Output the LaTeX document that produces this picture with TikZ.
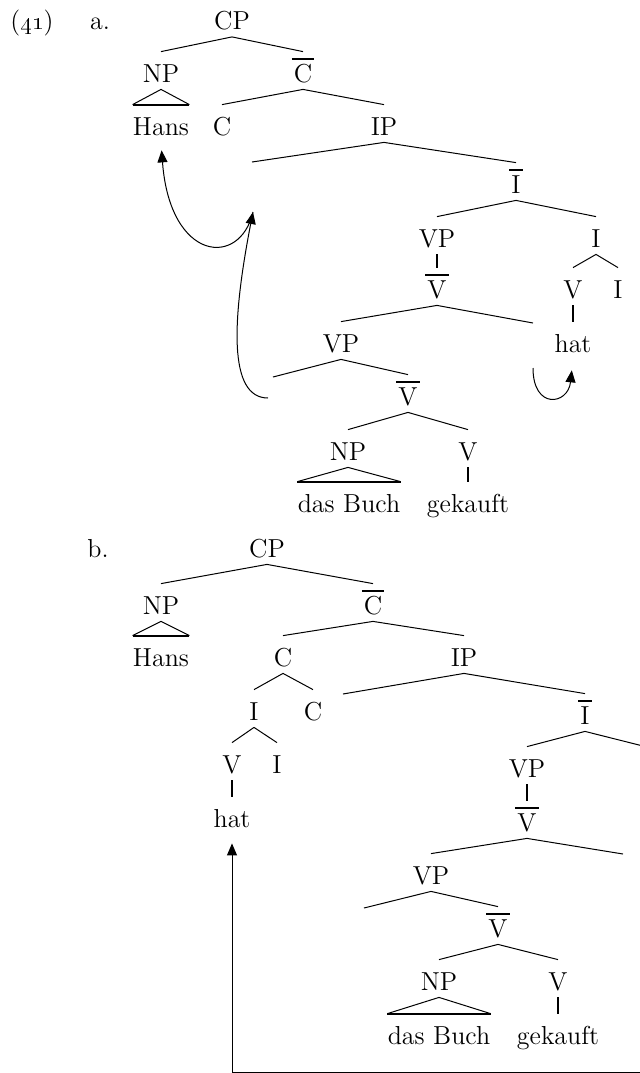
\documentclass[tikz,border=0pt]{standalone}
\usetikzlibrary{arrows.meta}
\newcommand{\barred}[1]{\vbox{\hrule height 1pt\kern 2pt\hbox{\kern1pt#1\kern1pt}}}

\begin{document}
\begin{tikzpicture}[x=0.5pt,y=-0.5pt,font=\fontsize{13}{15}\selectfont,
      lab/.style={anchor=base,inner sep=0pt,text height=15pt,text depth=3.5pt},
      branch/.style={line width=.5pt},
      unary/.style={line width=1pt},
      mv/.style={line width=.5pt,-{Triangle[length=6pt,width=5pt]}}]
  \useasboundingbox (0,0) rectangle (640,1073);
  % (41a)
  \node[lab] (ex) at (32,29.5) {(\oldstylenums{41})};
  \node[lab] (exa) at (100,29.5) {a.};
  \node[lab] (acp) at (232,29.5) {CP};
  \node[lab] (anp) at (161,82) {NP};
  \node[lab] (acb) at (303,82) {\barred{C}};
  \node[lab] (ahans) at (161,135) {Hans};
  \node[lab] (ac) at (222,135) {C};
  \node[lab] (aip) at (384,135) {IP};
  \coordinate (aspec) at (252,162);
  \node[lab] (aib) at (516,193) {\barred{I}};
  \node[lab] (avp) at (437,247) {VP};
  \node[lab] (ai) at (596,247) {I};
  \node[lab] (avb) at (437,298) {\barred{V}};
  \node[lab] (av) at (573,298) {V};
  \node[lab] (aii) at (618,298) {I};
  \node[lab] (ahat) at (573,352) {hat};
  \node[lab] (avpp) at (341,352) {VP};
  \coordinate (avtr) at (533,323);
  \coordinate (avspec) at (273,377);
  \node[lab] (avbb) at (408,405) {\barred{V}};
  \node[lab] (anpp) at (348,460) {NP};
  \node[lab] (avv) at (468,460) {V};
  \node[lab] (abuch) at (349,512) {das Buch};
  \node[lab] (agek) at (468,512) {gekauft};

  \draw[branch] (acp.south) -- (anp.north);
  \draw[branch] (acp.south) -- (acb.north);
  \draw[branch] (anp.south) -- (ahans.north west);
  \draw[branch] (anp.south) -- (ahans.north east);
  \draw[unary] (ahans.north west) -- (ahans.north east);
  \draw[branch] (acb.south) -- (ac.north);
  \draw[branch] (acb.south) -- (aip.north);
  \draw[branch] (aip.south) -- (aspec);
  \draw[branch] (aip.south) -- (aib.north);
  \draw[branch] (aib.south) -- (avp.north);
  \draw[branch] (aib.south) -- (ai.north);
  \draw[unary] (avp.south) -- (avb.north);
  \draw[branch] (ai.south) -- (av.north);
  \draw[branch] (ai.south) -- (aii.north);
  \draw[unary] (av.south) -- (ahat.north);
  \draw[branch] (avb.south) -- (avpp.north);
  \draw[branch] (avb.south) -- (avtr);
  \draw[branch] (avpp.south) -- (avspec);
  \draw[branch] (avpp.south) -- (avbb.north);
  \draw[branch] (avbb.south) -- (anpp.north);
  \draw[branch] (avbb.south) -- (avv.north);
  \draw[branch] (anpp.south) -- (abuch.north west);
  \draw[branch] (anpp.south) -- (abuch.north east);
  \draw[unary] (abuch.north west) -- (abuch.north east);
  \draw[unary] (avv.south) -- (agek.north);

  % movement in (41a)
  \coordinate (atr) at (268,398);
  \coordinate (aland) at (253,212);
  \coordinate (atrv) at (533,368);
  \draw[mv] (atr) .. controls (228,398) and (232,320) .. (aland);
  \draw[mv,shorten >=4pt] (aland) .. controls (240,268) and (170,262) .. (ahans.south);
  \draw[mv,shorten >=5.5pt] (atrv) .. controls (533,410) and (568,405) .. (ahat.south);

  % (41b)
  \node[lab] (exb) at (98,557) {b.};
  \node[lab] (bcp) at (267,557) {CP};
  \node[lab] (bnp) at (161,614) {NP};
  \node[lab] (bcb) at (373,614) {\barred{C}};
  \node[lab] (bhans) at (161,666) {Hans};
  \node[lab] (bc) at (283,666) {C};
  \node[lab] (bip) at (464,666) {IP};
  \node[lab] (bi) at (254,720) {I};
  \node[lab] (bcc) at (313,720) {C};
  \coordinate (bspec) at (343,694);
  \node[lab] (bib) at (585,724) {\barred{I}};
  \node[lab] (bv) at (232,773) {V};
  \node[lab] (bii) at (277,773) {I};
  \node[lab] (bhat) at (232,827) {hat};
  \node[lab] (bvp) at (527,777) {VP};
  \coordinate (bitr) at (643,746);
  \node[lab] (bvb) at (527,831) {\barred{V}};
  \node[lab] (bvpp) at (431,884) {VP};
  \coordinate (bvtr) at (623,854);
  \coordinate (bvspec) at (364,908);
  \node[lab] (bvbb) at (498,937) {\barred{V}};
  \node[lab] (bnpp) at (439,990) {NP};
  \node[lab] (bvv) at (558,990) {V};
  \node[lab] (bbuch) at (439,1044) {das Buch};
  \node[lab] (bgek) at (558,1044) {gekauft};

  \draw[branch] (bcp.south) -- (bnp.north);
  \draw[branch] (bcp.south) -- (bcb.north);
  \draw[branch] (bnp.south) -- (bhans.north west);
  \draw[branch] (bnp.south) -- (bhans.north east);
  \draw[unary] (bhans.north west) -- (bhans.north east);
  \draw[branch] (bcb.south) -- (bc.north);
  \draw[branch] (bcb.south) -- (bip.north);
  \draw[branch] (bc.south) -- (bi.north);
  \draw[branch] (bc.south) -- (bcc.north);
  \draw[branch] (bi.south) -- (bv.north);
  \draw[branch] (bi.south) -- (bii.north);
  \draw[unary] (bv.south) -- (bhat.north);
  \draw[branch] (bip.south) -- (bspec);
  \draw[branch] (bip.south) -- (bib.north);
  \draw[branch] (bib.south) -- (bvp.north);
  \draw[branch] (bib.south) -- (bitr);
  \draw[unary] (bvp.south) -- (bvb.north);
  \draw[branch] (bvb.south) -- (bvpp.north);
  \draw[branch] (bvb.south) -- (bvtr);
  \draw[branch] (bvpp.south) -- (bvspec);
  \draw[branch] (bvpp.south) -- (bvbb.north);
  \draw[branch] (bvbb.south) -- (bnpp.north);
  \draw[branch] (bvbb.south) -- (bvv.north);
  \draw[branch] (bnpp.south) -- (bbuch.north west);
  \draw[branch] (bnpp.south) -- (bbuch.north east);
  \draw[unary] (bbuch.north west) -- (bbuch.north east);
  \draw[unary] (bvv.south) -- (bgek.north);

  % movement in (41b)
  \coordinate (btr) at (660,1072);
  \draw[mv,shorten >=4.5pt] (btr) -| (bhat.south);
\end{tikzpicture}
\end{document}
